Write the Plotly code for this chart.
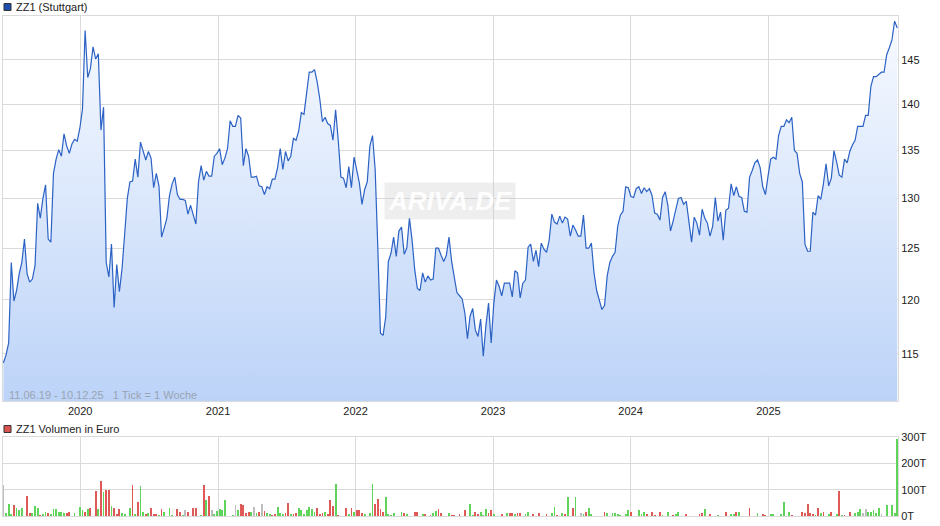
import pandas as pd
import plotly.graph_objects as go
from plotly.subplots import make_subplots

# Weekly closing prices, ZZ1 (Stuttgart), from 11.06.19
PRICES = [
    114.2, 114.9, 116.0, 123.6, 119.9, 120.9, 122.5, 123.6, 125.9, 122.5,
    121.7, 122.0, 123.3, 129.5, 128.0, 130.0, 131.4, 125.9, 125.6, 132.6,
    134.1, 135.1, 134.4, 136.8, 135.5, 134.7, 135.7, 136.2, 136.0, 137.4,
    139.5, 148.4, 143.0, 144.0, 146.5, 145.1, 145.7, 137.2, 139.7, 123.6,
    122.2, 125.4, 119.3, 123.4, 120.8, 123.0, 126.4, 130.0, 131.7, 131.8,
    134.1, 132.2, 135.9, 134.8, 134.0, 134.9, 134.2, 131.1, 132.6, 131.3,
    126.1, 127.0, 128.0, 130.3, 131.5, 132.2, 130.4, 129.9, 129.9, 129.8,
    128.4, 129.3, 128.4, 127.4, 131.7, 133.4, 131.9, 132.8, 132.3, 132.3,
    134.4, 134.7, 135.2, 133.5, 134.2, 135.2, 138.2, 137.6, 137.6, 138.8,
    138.5, 133.4, 135.2, 134.4, 132.2, 132.2, 132.3, 131.3, 131.2, 130.4,
    131.2, 131.0, 132.0, 132.0, 133.2, 135.2, 133.0, 134.9, 133.9, 134.4,
    136.3, 136.1, 137.1, 139.1, 138.9, 141.0, 143.6, 143.6, 143.9, 142.5,
    140.6, 138.1, 138.6, 137.9, 137.7, 136.1, 139.4, 136.1, 132.2, 132.1,
    131.1, 133.3, 131.1, 134.3, 133.1, 131.6, 129.4, 130.9, 131.7, 135.5,
    136.6, 133.0, 125.1, 116.9, 116.7, 118.4, 123.7, 124.5, 126.1, 124.2,
    126.7, 127.1, 124.4, 125.0, 128.0, 125.8, 122.9, 121.1, 120.9, 122.6,
    121.7, 122.3, 121.9, 122.0, 125.0, 125.0, 124.3, 123.7, 124.3, 126.1,
    123.7, 122.0, 120.7, 120.4, 120.1, 118.8, 116.4, 118.5, 119.2, 117.2,
    116.6, 118.2, 114.8, 117.6, 119.7, 116.0, 119.7, 121.9, 121.3, 120.4,
    121.6, 121.6, 121.6, 120.3, 122.8, 122.6, 120.2, 121.6, 121.9, 125.1,
    125.4, 123.7, 124.8, 123.2, 125.5, 124.9, 124.6, 125.8, 128.4, 127.6,
    127.4, 128.2, 127.5, 128.1, 127.9, 126.2, 127.3, 126.8, 126.2, 126.2,
    128.3, 125.0, 125.0, 125.5, 122.6, 120.9, 119.9, 119.1, 119.5, 122.3,
    123.6, 124.2, 124.6, 127.2, 128.3, 128.7, 131.2, 131.1, 130.2, 130.1,
    131.0, 131.2, 130.5, 131.1, 130.7, 131.0, 130.3, 128.5, 128.4, 127.8,
    130.1, 130.7, 129.3, 126.7, 127.7, 128.8, 130.0, 130.1, 129.4, 129.7,
    127.4, 125.6, 128.1, 127.5, 126.3, 128.9, 128.0, 127.5, 126.2, 127.2,
    130.1, 127.7, 128.6, 125.8, 128.8, 129.0, 131.5, 130.3, 131.2, 130.2,
    130.1, 128.7, 128.6, 132.2, 132.9, 133.7, 134.0, 133.2, 131.2, 130.4,
    132.3, 134.1, 134.3, 134.1, 136.6, 137.6, 137.6, 138.3, 138.0, 138.6,
    135.0, 134.7, 132.6, 131.7, 125.4, 124.7, 124.7, 128.6, 128.3, 130.3,
    129.9, 131.5, 133.6, 131.3, 132.1, 135.0, 133.8, 132.4, 132.2, 134.1,
    133.7, 134.9, 135.6, 136.1, 137.6, 137.6, 137.6, 138.8, 138.8, 142.0,
    143.1, 143.1, 143.4, 143.6, 143.6, 145.6, 146.4, 147.3, 149.5, 148.7,
]

# Weekly volume in thousand euro (T)
VOLUME = [
    119, 12, 47, 6, 41, 29, 21, 31, 0, 75, 10, 11, 37, 29, 3, 5, 17, 11, 9, 25,
    25, 15, 17, 10, 12, 17, 0, 11, 0, 34, 22, 15, 27, 29, 0, 96, 25, 134, 92, 100,
    100, 37, 32, 4, 25, 10, 6, 0, 29, 119, 6, 55, 115, 17, 6, 10, 29, 7, 7, 3,
    27, 17, 0, 32, 3, 0, 25, 15, 3, 21, 15, 0, 29, 29, 0, 3, 119, 59, 75, 21,
    9, 19, 25, 22, 59, 0, 0, 3, 41, 22, 44, 41, 12, 15, 15, 35, 11, 17, 47, 20,
    12, 6, 3, 7, 36, 12, 6, 11, 51, 6, 7, 12, 29, 21, 5, 22, 36, 25, 15, 31,
    6, 10, 15, 6, 60, 37, 122, 2, 0, 0, 30, 6, 30, 15, 21, 21, 10, 6, 0, 10,
    122, 44, 66, 25, 17, 74, 6, 3, 10, 0, 0, 17, 10, 6, 0, 0, 17, 15, 0, 9,
    5, 0, 2, 10, 19, 25, 10, 0, 0, 10, 2, 2, 0, 6, 0, 21, 0, 47, 2, 15,
    6, 14, 2, 25, 10, 21, 6, 0, 0, 6, 0, 10, 10, 10, 6, 10, 10, 0, 9, 17,
    0, 6, 0, 10, 0, 0, 6, 0, 10, 34, 2, 0, 10, 6, 71, 0, 30, 71, 0, 10,
    6, 15, 29, 6, 0, 0, 0, 0, 17, 12, 0, 12, 10, 6, 2, 0, 6, 21, 17, 0,
    0, 21, 6, 16, 9, 0, 16, 2, 0, 16, 2, 0, 16, 0, 2, 9, 16, 0, 0, 6,
    0, 0, 0, 0, 6, 10, 25, 0, 6, 0, 0, 2, 0, 0, 16, 0, 6, 9, 17, 17,
    0, 0, 0, 32, 0, 0, 10, 0, 6, 2, 0, 6, 6, 0, 0, 6, 55, 0, 16, 2,
    0, 0, 0, 16, 10, 47, 10, 6, 2, 32, 10, 16, 0, 6, 16, 0, 6, 96, 2, 2,
    0, 16, 0, 12, 16, 27, 10, 25, 16, 16, 21, 10, 31, 6, 0, 42, 0, 40, 10, 294,
]

# Bar colour per week: g = up, r = down, n = unchanged
VOL_DIR = (
    "ngggrggggrrgggrggrgg"
    "ggggrrgggggrgrgrgrgr"
    "rgrrrggggrgrggrgrrrg"
    "rgggggrrgnrgrrggrgrn"
    "ggggggggngrrrrgngrnr"
    "ggrrgggrrgrrgggggggr"
    "rrgrrrgrggrgrgrrrggg"
    "grrrrgggggggrgggrrgg"
    "rgrggrrgggrrgrgrgggr"
    "rgggrrgggrggrrgrrggg"
    "grgrggrgggrggrggrggn"
    "grggggggrgggggggggrg"
    "ggggrgrrgrggggrggggr"
    "ggggrrggrgggggrgggrg"
    "gggrggggrrgggggggggr"
    "gggrrrrrgrgrggrggrgr"
    "grggggnngggggngggggg"
)

Y_MIN, Y_MAX = 110.8, 150.1

dates = pd.date_range("2019-06-11", periods=len(PRICES), freq="7D")
DIR_COLORS = {"g": "#5fd35a", "r": "#df5a57", "n": "#bdbdbd"}
bar_colors = [DIR_COLORS[c] for c in VOL_DIR]

FONT = "Liberation Sans, Arial, sans-serif"
GRID = "#dadada"

fig = make_subplots(rows=2, cols=1, vertical_spacing=0.0)

# floor of the price axis, used as the lower edge of the area fill
fig.add_trace(go.Scatter(
    x=dates, y=[Y_MIN] * len(PRICES), mode="lines",
    line=dict(width=0), hoverinfo="skip", showlegend=False,
), row=1, col=1)
fig.add_trace(go.Scatter(
    x=dates, y=PRICES,
    mode="lines",
    line=dict(color="#2b62c4", width=1.2),
    fill="tonexty",
    fillgradient=dict(type="vertical",
                      colorscale=[[0, "#bcd3f8"], [1, "#f7faff"]]),
    showlegend=False,
    hoverinfo="x+y",
), row=1, col=1)

fig.add_trace(go.Bar(
    x=dates, y=[v * 1000 for v in VOLUME],
    marker=dict(color=bar_colors, line=dict(width=0)),
    width=86400000 * 2.2,
    showlegend=False,
), row=2, col=1)

x_range = [pd.Timestamp("2019-06-10"), pd.Timestamp("2025-12-11")]
xaxis_common = dict(
    type="date", range=x_range, showgrid=True, gridcolor=GRID, gridwidth=1,
    tick0="2020-01-01", dtick="M12", tickformat="%Y",
    showline=True, mirror=True, linecolor=GRID, linewidth=1,
    zeroline=False, ticks="",
    tickfont=dict(family=FONT, size=11, color="#222"),
)
fig.update_xaxes(**xaxis_common, row=1, col=1)
fig.update_xaxes(**xaxis_common, row=2, col=1, showticklabels=False)

fig.update_yaxes(
    type="log", range=[2.0446, 2.1764], side="right",
    tickvals=[115, 120, 125, 130, 135, 140, 145],
    showgrid=True, gridcolor=GRID, zeroline=False,
    showline=True, mirror=True, linecolor=GRID,
    ticks="", tickfont=dict(family=FONT, size=11, color="#222"),
    domain=[0.23, 1.0], row=1, col=1,
)
fig.update_yaxes(
    range=[0, 300000], side="right",
    tickvals=[0, 100000, 200000, 300000],
    ticktext=["0T", "100T", "200T", "300T"],
    showgrid=True, gridcolor=GRID, zeroline=False,
    showline=True, mirror=True, linecolor=GRID,
    ticks="", tickfont=dict(family=FONT, size=11, color="#222"),
    domain=[0.0, 0.158], row=2, col=1,
)


# Legend boxes (paper coordinates of the plot area: 895 x 500 px)
def legend_box(y_px, fill):
    fig.add_shape(type="rect", xref="paper", yref="paper",
                  x0=1 / 895, x1=8 / 895,
                  y0=(516 - y_px - 4) / 500, y1=(516 - y_px + 3) / 500,
                  fillcolor=fill, line=dict(color="#333", width=1))


legend_box(6.5, "#1f4fae")
legend_box(428.5, "#d9534f")

fig.add_annotation(text="ZZ1 (Stuttgart)", xref="paper", yref="paper",
                   x=11 / 895, y=(516 - 6.5) / 500, xanchor="left",
                   yanchor="middle", showarrow=False,
                   font=dict(family=FONT, size=11, color="#222"))
fig.add_annotation(text="ZZ1 Volumen in Euro", xref="paper", yref="paper",
                   x=11 / 895, y=(516 - 428.5) / 500, xanchor="left",
                   yanchor="middle", showarrow=False,
                   font=dict(family=FONT, size=11, color="#222"))
fig.add_annotation(text="11.06.19 - 10.12.25 &nbsp;&nbsp;1 Tick = 1 Woche",
                   xref="paper", yref="paper",
                   x=4 / 895, y=(516 - 395) / 500, xanchor="left",
                   yanchor="middle", showarrow=False,
                   font=dict(family=FONT, size=11, color="#9aa3b0"))

# Watermark
fig.add_annotation(text="ARIVA.DE", xref="paper", yref="paper",
                   x=(450 - 3) / 895, y=(516 - 201) / 500,
                   showarrow=False, bgcolor="rgba(200,200,200,0.3)",
                   borderpad=3,
                   font=dict(family=FONT, size=26, color="rgba(255,255,255,0.95)",
                             style="italic", weight="bold"))

fig.update_layout(
    width=940, height=526,
    margin=dict(l=3, r=42, t=16, b=10),
    paper_bgcolor="white", plot_bgcolor="white",
    bargap=0,
    showlegend=False,
)

fig.write_html("out.html", config={"displayModeBar": False},
               post_script="document.body.style.margin = '0';")
